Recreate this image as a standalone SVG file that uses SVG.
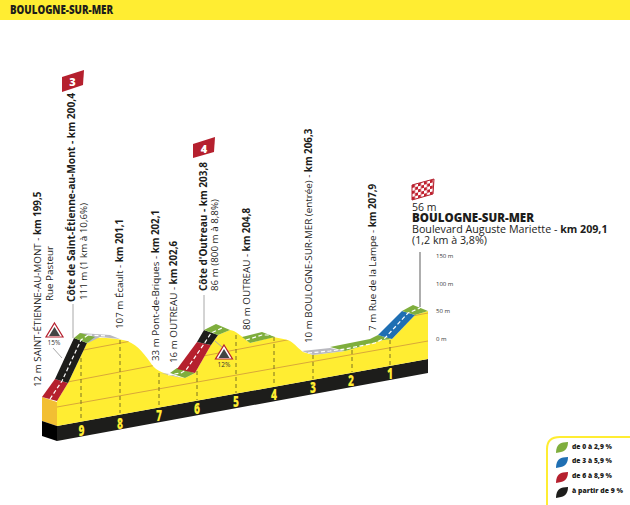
<svg xmlns="http://www.w3.org/2000/svg" width="630" height="505" viewBox="0 0 630 505">
<style>
text{font-family:"Open Sans","Liberation Sans",sans-serif;fill:#1d1d1b}
.l{font-size:9.8px}
.b{font-weight:700}
.g{fill:#7fae3d}.bl{fill:#1f6fb3}.r{fill:#b5202e}.k{fill:#1d1d1b}.s{fill:#b9b9c0}
.c{fill:none;stroke:#fff;stroke-width:1.2;stroke-dasharray:4 2.5}
.e{stroke:#d9a83a;stroke-width:1;fill:none}
.d{stroke:#7d7320;stroke-width:1;stroke-dasharray:4 3;fill:none}
.n{font-size:15px;font-weight:800;fill:#ffed32;text-anchor:middle}
.a{font-size:6px;fill:#333}
.t{font-size:7.5px;font-weight:800}
.lead{stroke:#a8a8a8;stroke-width:1;fill:none}
.p{font-size:6.5px;fill:#333;text-anchor:middle}
</style>
<defs>
<clipPath id="yc"><path d="M57 401L68 383L87 343L95 338C100 337 120 339 123 340C135 342 143 352 150 362C155 370 160 372 173 376L185 378L195 373L211 345L218 335L230 330C236 331 240 335 250 343L273 337C280 338 288 340 290 341C295 344 300 350 303 352L313 355L345 351L383 340L392 339L415 315L428 311L428 359L57 426Z"/></clipPath>
<pattern id="chk" width="6" height="6" patternUnits="userSpaceOnUse" patternTransform="translate(412 185) skewY(-15)">
<rect width="6" height="6" fill="#fff"/><rect width="3" height="3" fill="#c0202e"/><rect x="3" y="3" width="3" height="3" fill="#c0202e"/>
</pattern>
<path id="tri" d="M0 -14L8.500 0L-8.500 0Z" fill="#fff" stroke="#b5202e" stroke-width="1.2"/>
<path id="leaf" d="M0 11C0 6 2 1 7 0.500L12 0C12 5 10 9 5 10Z"/>
</defs>
<g id="banner">
<rect x="0" y="0" width="630" height="20" fill="#ffed32"/>
<text x="10" y="14" font-size="12" font-weight="800" textLength="103" lengthAdjust="spacingAndGlyphs">BOULOGNE-SUR-MER</text>
</g>
<g id="profile">
<path d="M42 397L57 402L57 426L42 421Z" fill="#f2bf33"/>
<path d="M42 421L57 426L57 441L42 436Z" fill="#000"/>
<path d="M57 426L428 359L428 373L57 441Z" fill="#1d1d1b"/>
<path d="M57 401L68 383L87 343L95 338C100 337 120 339 123 340C135 342 143 352 150 362C155 370 160 372 173 376L185 378L195 373L211 345L218 335L230 330C236 331 240 335 250 343L273 337C280 338 288 340 290 341C295 344 300 350 303 352L313 355L345 351L383 340L392 339L415 315L428 311L428 359L57 426Z" fill="#ffed32"/>
<g clip-path="url(#yc)">
<path class="e" d="M57 407L428 341"/>
<path class="e" d="M57 384L428 313"/>
<path class="e" d="M57 355L428 285"/>
</g>
<path class="d" d="M81 358V420M120 340V413M159 373V407M197 357V400M236 335V393M274 337V386M313 355V379M352 350V372M390 340V365"/>
</g>
<g id="km-numbers">
<text class="n" x="81.500" y="436" textLength="6" lengthAdjust="spacingAndGlyphs">9</text>
<text class="n" x="120" y="429" textLength="6" lengthAdjust="spacingAndGlyphs">8</text>
<text class="n" x="159" y="421" textLength="6" lengthAdjust="spacingAndGlyphs">7</text>
<text class="n" x="197" y="414" textLength="6" lengthAdjust="spacingAndGlyphs">6</text>
<text class="n" x="236" y="407" textLength="6" lengthAdjust="spacingAndGlyphs">5</text>
<text class="n" x="274" y="400" textLength="6" lengthAdjust="spacingAndGlyphs">4</text>
<text class="n" x="313" y="393" textLength="6" lengthAdjust="spacingAndGlyphs">3</text>
<text class="n" x="351" y="386" textLength="6" lengthAdjust="spacingAndGlyphs">2</text>
<text class="n" x="390" y="379" textLength="6" lengthAdjust="spacingAndGlyphs">1</text>
</g>
<g id="road">
<path class="r" d="M42 397L55 379L68 383L57 401Z"/>
<path class="k" d="M55 379L74 338L87 343L68 383Z"/>
<path class="s" d="M80 333L110 335L120 339L100 337L88 343Z"/>
<path class="g" d="M74 338L80 333L95 337L87 343Z"/>
<path class="s" d="M160 373L170 374L182 378L173 376Z"/>
<path class="g" d="M170 373L177 368L195 373L185 378Z"/>
<path class="r" d="M177 369L197 342L211 345L195 373Z"/>
<path class="k" d="M197 342L204 330L218 335L211 345Z"/>
<path class="g" d="M204 330L216 324L230 330L218 335Z"/>
<path class="g" d="M242 337L262 332L275 337L250 343Z"/>
<path class="s" d="M302 351L330 348L345 351L313 355Z"/>
<path class="g" d="M330 347L370 339L378 335L392 339L383 340L345 351Z"/>
<path class="bl" d="M378 335L402 311L415 315L392 339Z"/>
<path class="g" d="M402 311L413 305L428 311L415 315Z"/>
<path class="c" d="M50 399L62 381L81 340L88 335"/>
<path class="c" d="M168 375L181 373L186 370L204 344L211 333L222 328"/>
<path class="c" d="M246 340L262 335L272 335"/>
<path class="c" d="M308 353L330 351L345 349L375 343L385 338L408 313L420 308"/>
<path class="c" d="M88 335L106 336"/>
</g>
<g id="leaders">
<path class="lead" d="M73 304V338"/>
<path class="lead" d="M204 295V330"/>
<path d="M420 252V307" stroke="#777" stroke-width="1.2" fill="none"/>
<path class="lead" d="M53 348L62 358"/>
<path class="lead" d="M215 341L222 347"/>
</g>
<g id="signs">
<g id="sign-15"><use href="#tri" x="54.500" y="337"/><path d="M54.500 327L60 336H49Z" fill="#444"/><text class="p" x="54" y="345">15%</text></g>
<g id="sign-12"><use href="#tri" x="224" y="359"/><path d="M224 349L229.500 358H218.500Z" fill="#444"/><text class="p" x="224" y="367">12%</text></g>
</g>
<g id="labels">
<text class="l" transform="translate(41 387) rotate(-90)">12 m SAINT-ÉTIENNE-AU-MONT - <tspan class="b">km 199,5</tspan></text>
<text class="l" transform="translate(53 301) rotate(-90)">Rue Pasteur</text>
<text class="l b" transform="translate(75 302) rotate(-90)" textLength="209" lengthAdjust="spacingAndGlyphs">Côte de Saint-Étienne-au-Mont - km 200,4</text>
<text class="l" transform="translate(87 300) rotate(-90)">111 m (1 km à 10,6%)</text>
<text class="l" transform="translate(123 329) rotate(-90)">107 m Écault - <tspan class="b">km 201,1</tspan></text>
<text class="l" transform="translate(159 361) rotate(-90)">33 m Pont-de-Briques - <tspan class="b">km 202,1</tspan></text>
<text class="l" transform="translate(177 363) rotate(-90)">16 m OUTREAU - <tspan class="b">km 202,6</tspan></text>
<text class="l b" transform="translate(207 291) rotate(-90)" textLength="129" lengthAdjust="spacingAndGlyphs">Côte d'Outreau - km 203,8</text>
<text class="l" transform="translate(218 291) rotate(-90)">86 m (800 m à 8,8%)</text>
<text class="l" transform="translate(250 330) rotate(-90)">80 m OUTREAU - <tspan class="b">km 204,8</tspan></text>
<text class="l" transform="translate(312 343) rotate(-90)">10 m BOULOGNE-SUR-MER (entrée) - <tspan class="b">km 206,3</tspan></text>
<text class="l" transform="translate(376 331) rotate(-90)">7 m Rue de la Lampe - <tspan class="b">km 207,9</tspan></text>
</g>
<g id="flags">
<g id="flag-3"><path class="r" d="M62 77L84 70L83 85L62 92Z"/><text x="72.500" y="86" font-size="11" font-weight="800" style="fill:#fff" text-anchor="middle">3</text></g>
<g id="flag-4"><path class="r" d="M193 144L215 137L214 152L193 158Z"/><text x="204" y="152.500" font-size="11" font-weight="800" style="fill:#fff" text-anchor="middle">4</text></g>
<g id="flag-finish"><path d="M412 185L434 179L433 194L412 200Z" fill="url(#chk)" stroke="#b5202e" stroke-width="1"/></g>
</g>
<g id="finish">
<text x="412" y="211" font-size="10.500">56 m</text>
<text x="412" y="222" font-size="12.500" font-weight="800" textLength="122" lengthAdjust="spacingAndGlyphs">BOULOGNE-SUR-MER</text>
<text x="412" y="233" font-size="10.700">Boulevard Auguste Mariette - <tspan class="b">km 209,1</tspan></text>
<text x="412" y="244" font-size="10.700">(1,2 km à 3,8%)</text>
</g>
<g id="scale">
<text class="a" x="436" y="258">150 m</text>
<text class="a" x="436" y="286">100 m</text>
<text class="a" x="436" y="313">50 m</text>
<text class="a" x="436" y="341">0 m</text>
</g>
<g id="legend">
<path d="M547 505V449Q547 437 560 437H630" fill="none" stroke="#ffed32" stroke-width="2"/>
<use href="#leaf" x="556" y="442" class="g"/>
<use href="#leaf" x="556" y="457" class="bl"/>
<use href="#leaf" x="556" y="472" class="r"/>
<use href="#leaf" x="556" y="487" class="k"/>
<text class="t" x="572" y="449" textLength="40" lengthAdjust="spacingAndGlyphs">de 0 à 2,9 %</text>
<text class="t" x="572" y="463" textLength="40" lengthAdjust="spacingAndGlyphs">de 3 à 5,9 %</text>
<text class="t" x="572" y="478" textLength="40" lengthAdjust="spacingAndGlyphs">de 6 à 8,9 %</text>
<text class="t" x="572" y="493" textLength="51" lengthAdjust="spacingAndGlyphs">à partir de 9 %</text>
</g>
</svg>
